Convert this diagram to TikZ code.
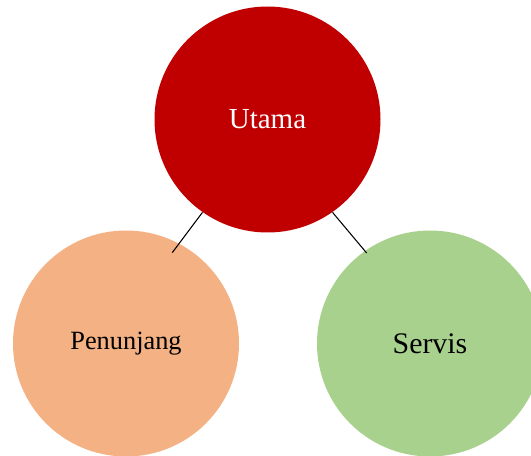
\documentclass[tikz,border=0pt]{standalone}
\usepackage{fontspec}
\setmainfont{Liberation Serif}
\usepackage{xcolor}
\usetikzlibrary{calc}

\definecolor{utamared}{HTML}{C00000}
\definecolor{penunjangorange}{HTML}{F4B183}
\definecolor{servisgreen}{HTML}{A9D18E}

\begin{document}
\begin{tikzpicture}[
  bubble/.style={circle, minimum size=4.52cm, inner sep=0pt},
  link/.style={line width=0.6pt, black}
]
  \useasboundingbox (0,0) rectangle (10.62,9.12);
  \clip (0,0) rectangle (10.62,9.12);

  \node[bubble, fill=utamared, text=white] (utama) at (5.35,6.73) {\fontsize{16.5}{20}\selectfont Utama};
  \node[bubble, fill=penunjangorange] (penunjang) at (2.52,2.25) {\fontsize{15}{18}\selectfont Penunjang};
  \node[bubble, fill=servisgreen] (servis) at (8.60,2.25) {\fontsize{17}{20}\selectfont Servis};

  \draw[link] (utama.235) -- ($(penunjang.center)!0.9!(penunjang.63)$);
  \draw[link] (utama.305) -- ($(servis.center)!0.975!(servis.125)$);
\end{tikzpicture}
\end{document}
